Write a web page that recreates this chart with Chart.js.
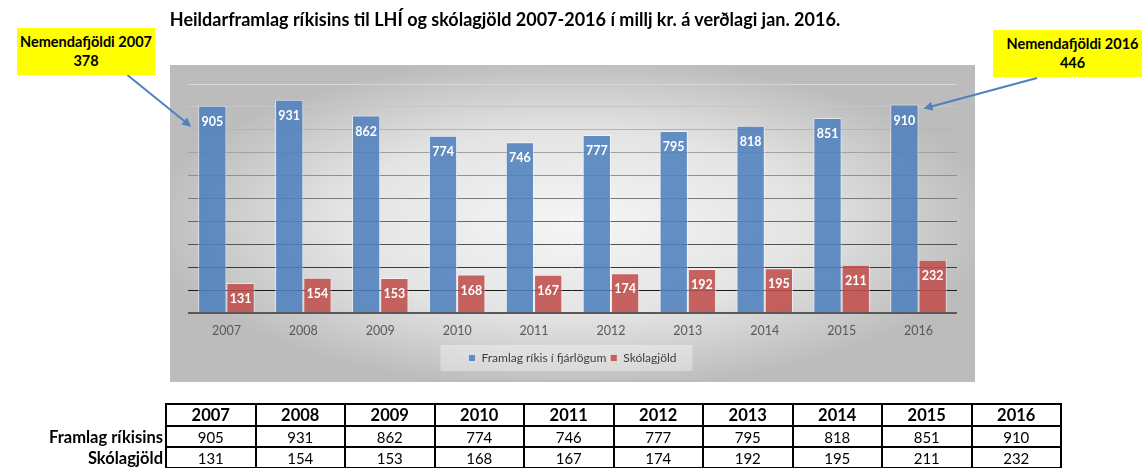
<!DOCTYPE html>
<html>
<head>
<meta charset="utf-8">
<script src="https://cdn.jsdelivr.net/npm/chart.js@4.4.1/dist/chart.umd.min.js"></script>
<style>
  html, body { margin:0; padding:0; width:1142px; height:468px; overflow:hidden; background:#fff; }
  #wrap { position:relative; width:1142px; height:468px; }
  #c { position:absolute; left:0; top:0; }
  #title { position:absolute; left:0; top:8px; width:1010px; text-align:center; font:bold 18px Lato, sans-serif; color:#000; white-space:nowrap; }
  .callout { position:absolute; background:#ffff00; font:bold 14.5px Lato, sans-serif; color:#000; text-align:center; line-height:19px; box-sizing:border-box; padding-top:4px; }
  #calloutL { left:17px; top:28px; width:138px; height:47px; }
  #calloutR { left:993px; top:30px; width:159px; height:47px; }
  #tbl { position:absolute; left:0; top:403px; border-collapse:collapse; table-layout:fixed; font-family:Lato, sans-serif; }
  #tbl td { height:19px; padding:0; text-align:center; font-size:15px; color:#000; border:2px solid #000; }
  #tbl td.lab { border:none; text-align:right; font-weight:bold; font-size:16.5px; padding-right:2px; }
  #tbl tr.hd td { font-weight:bold; font-size:16.5px; }
  #tbl tr.hd td.lab { border:none; }
</style>
</head>
<body>
<div id="wrap">
  <canvas id="c" width="1142" height="468"></canvas>
  <div id="title"></div>
  <div id="calloutL" class="callout"></div>
  <div id="calloutR" class="callout"></div>
  <table id="tbl"></table>
</div>
<script>
// ---- data ----
const chartTitle = 'Heildarframlag ríkisins til LHÍ og skólagjöld 2007-2016 í millj kr. á verðlagi jan. 2016.';
const years = ['2007','2008','2009','2010','2011','2012','2013','2014','2015','2016'];
const framlag = [905, 931, 862, 774, 746, 777, 795, 818, 851, 910];
const skolagjold = [131, 154, 153, 168, 167, 174, 192, 195, 211, 232];
const seriesNames = ['Framlag ríkis í fjárlögum', 'Skólagjöld'];
const tableRowNames = ['Framlag ríkisins', 'Skólagjöld'];
const calloutLabel = 'Nemendafjöldi';
const calloutYears = ['2007', '2016'];
const calloutValues = [378, 446];

// ---- HTML text parts ----
document.getElementById('title').textContent = chartTitle;
document.getElementById('calloutL').innerHTML = calloutLabel + ' ' + calloutYears[0] + '<br>' + calloutValues[0];
document.getElementById('calloutR').innerHTML = calloutLabel + ' ' + calloutYears[1] + '<br>' + calloutValues[1];

(function buildTable(){
  const t = document.getElementById('tbl');
  let html = '<colgroup><col style="width:166px">' + years.map(()=> '<col style="width:89.5px">').join('') + '</colgroup>';
  html += '<tr class="hd"><td class="lab"></td>' + years.map(y => '<td>' + y + '</td>').join('') + '</tr>';
  [framlag, skolagjold].forEach((arr, i) => {
    html += '<tr><td class="lab">' + tableRowNames[i] + '</td>' + arr.map(v => '<td>' + v + '</td>').join('') + '</tr>';
  });
  t.innerHTML = html;
})();

// ---- plugins ----
const bgPlugin = {
  id: 'bgBox',
  beforeDraw(chart) {
    const ctx = chart.ctx, a = chart.chartArea, lg = chart.legend;
    const L = a.left - 18, R = a.right + 18, T = a.top - 19, B = lg.bottom + 8;
    ctx.save();
    const cx = (L + R) / 2, cy = (T + B) / 2;
    const rx = (R - L) / 2, ry = (B - T) / 2;
    ctx.translate(cx, cy);
    ctx.scale(1, ry / rx);
    const g = ctx.createRadialGradient(0, 0, 0, 0, 0, rx * 1.05);
    g.addColorStop(0, '#f5f5f5');
    g.addColorStop(0.55, '#e4e4e4');
    g.addColorStop(1, '#bcbcbc');
    ctx.fillStyle = g;
    ctx.fillRect(-rx, -rx, 2 * rx, 2 * rx);
    ctx.restore();
    ctx.save();
    ctx.beginPath();
    ctx.rect(0, 0, chart.width, chart.height);
    ctx.rect(L, T, R - L, B - T);
    ctx.fillStyle = '#fff';
    ctx.fill('evenodd');
    ctx.fillStyle = '#bdbdbd';
    ctx.fillRect(L, B - 2, R - L, 2);
    // legend background
    const hb = lg.legendHitBoxes;
    if (hb && hb.length) {
      const l0 = hb[0].left - 28, r0 = hb[hb.length - 1].left + hb[hb.length - 1].width + 16;
      const my = hb[0].top + hb[0].height / 2;
      ctx.fillStyle = 'rgba(255,255,255,0.35)';
      ctx.fillRect(l0, my - 13, r0 - l0, 26);
    }
    ctx.restore();
  }
};

const labelPlugin = {
  id: 'barLabels',
  afterDatasetsDraw(chart) {
    const ctx = chart.ctx;
    ctx.save();
    ctx.font = 'bold 12.5px Lato, sans-serif';
    ctx.fillStyle = '#ffffff';
    ctx.textAlign = 'center';
    ctx.textBaseline = 'middle';
    chart.data.datasets.forEach((ds, di) => {
      chart.getDatasetMeta(di).data.forEach((el, i) => {
        ctx.fillText(String(ds.data[i]), el.x, el.y + 16);
      });
    });
    ctx.restore();
  }
};

function drawArrow(ctx, x0, y0, x1, y1) {
  const ang = Math.atan2(y1 - y0, x1 - x0);
  const hl = 9, hw = 4.5;
  const bx = x1 - hl * Math.cos(ang), by = y1 - hl * Math.sin(ang);
  ctx.beginPath();
  ctx.moveTo(x0, y0);
  ctx.lineTo(bx, by);
  ctx.stroke();
  ctx.beginPath();
  ctx.moveTo(x1, y1);
  ctx.lineTo(bx + hw * Math.sin(ang), by - hw * Math.cos(ang));
  ctx.lineTo(bx - hw * Math.sin(ang), by + hw * Math.cos(ang));
  ctx.closePath();
  ctx.fill();
}

const arrowPlugin = {
  id: 'arrows',
  afterDraw(chart) {
    const ctx = chart.ctx;
    const meta = chart.getDatasetMeta(0);
    const wrap = document.getElementById('wrap').getBoundingClientRect();
    const rl = document.getElementById('calloutL').getBoundingClientRect();
    const rr = document.getElementById('calloutR').getBoundingClientRect();
    const eL = meta.data[years.indexOf(calloutYears[0])];
    const eR = meta.data[years.indexOf(calloutYears[1])];
    ctx.save();
    ctx.strokeStyle = '#4f81bd';
    ctx.fillStyle = '#4f81bd';
    ctx.lineWidth = 2;
    drawArrow(ctx, rl.left - wrap.left + rl.width * 0.8, rl.bottom - wrap.top,
              eL.x - eL.width / 2 - 7, eL.y + 21);
    drawArrow(ctx, rr.left - wrap.left + 44, rr.bottom - wrap.top + 1,
              eR.x + eR.width / 2 + 5, eR.y + 4);
    ctx.restore();
  }
};

function gridGray(v) {
  if (v === 0) return '#595959';
  const g = Math.round(25 + Math.pow((v - 100) / 900, 0.8) * 190);
  return 'rgb(' + g + ',' + g + ',' + g + ')';
}

Chart.defaults.font.family = 'Lato, sans-serif';

new Chart(document.getElementById('c'), {
  type: 'bar',
  data: {
    labels: years,
    datasets: [
      { label: seriesNames[0], data: framlag, backgroundColor: 'rgba(79,129,189,0.88)', borderColor: 'rgba(255,255,255,0.55)', borderWidth: 1 },
      { label: seriesNames[1], data: skolagjold, backgroundColor: 'rgba(192,80,77,0.88)', borderColor: 'rgba(255,255,255,0.55)', borderWidth: 1 }
    ]
  },
  options: {
    responsive: false,
    animation: false,
    devicePixelRatio: 1,
    layout: { padding: { left: 188, right: 185, top: 84, bottom: 94 } },
    datasets: { bar: { categoryPercentage: 0.735, barPercentage: 1.0 } },
    scales: {
      x: {
        grid: { display: false, drawTicks: false },
        border: { display: false },
        ticks: { color: '#595959', font: { size: 12.5 }, padding: 10 }
      },
      y: {
        min: 0, max: 1000,
        ticks: { display: false, stepSize: 100 },
        border: { display: false },
        grid: {
          drawTicks: false,
          color: c => gridGray(c.tick.value),
          lineWidth: c => c.tick.value === 0 ? 2 : 1
        }
      }
    },
    plugins: {
      legend: {
        position: 'bottom',
        labels: { boxWidth: 7, boxHeight: 7, padding: 4, color: '#404040', font: { size: 12 } }
      },
      title: { display: false },
      tooltip: { enabled: false }
    }
  },
  plugins: [bgPlugin, labelPlugin, arrowPlugin]
});
</script>
</body>
</html>
